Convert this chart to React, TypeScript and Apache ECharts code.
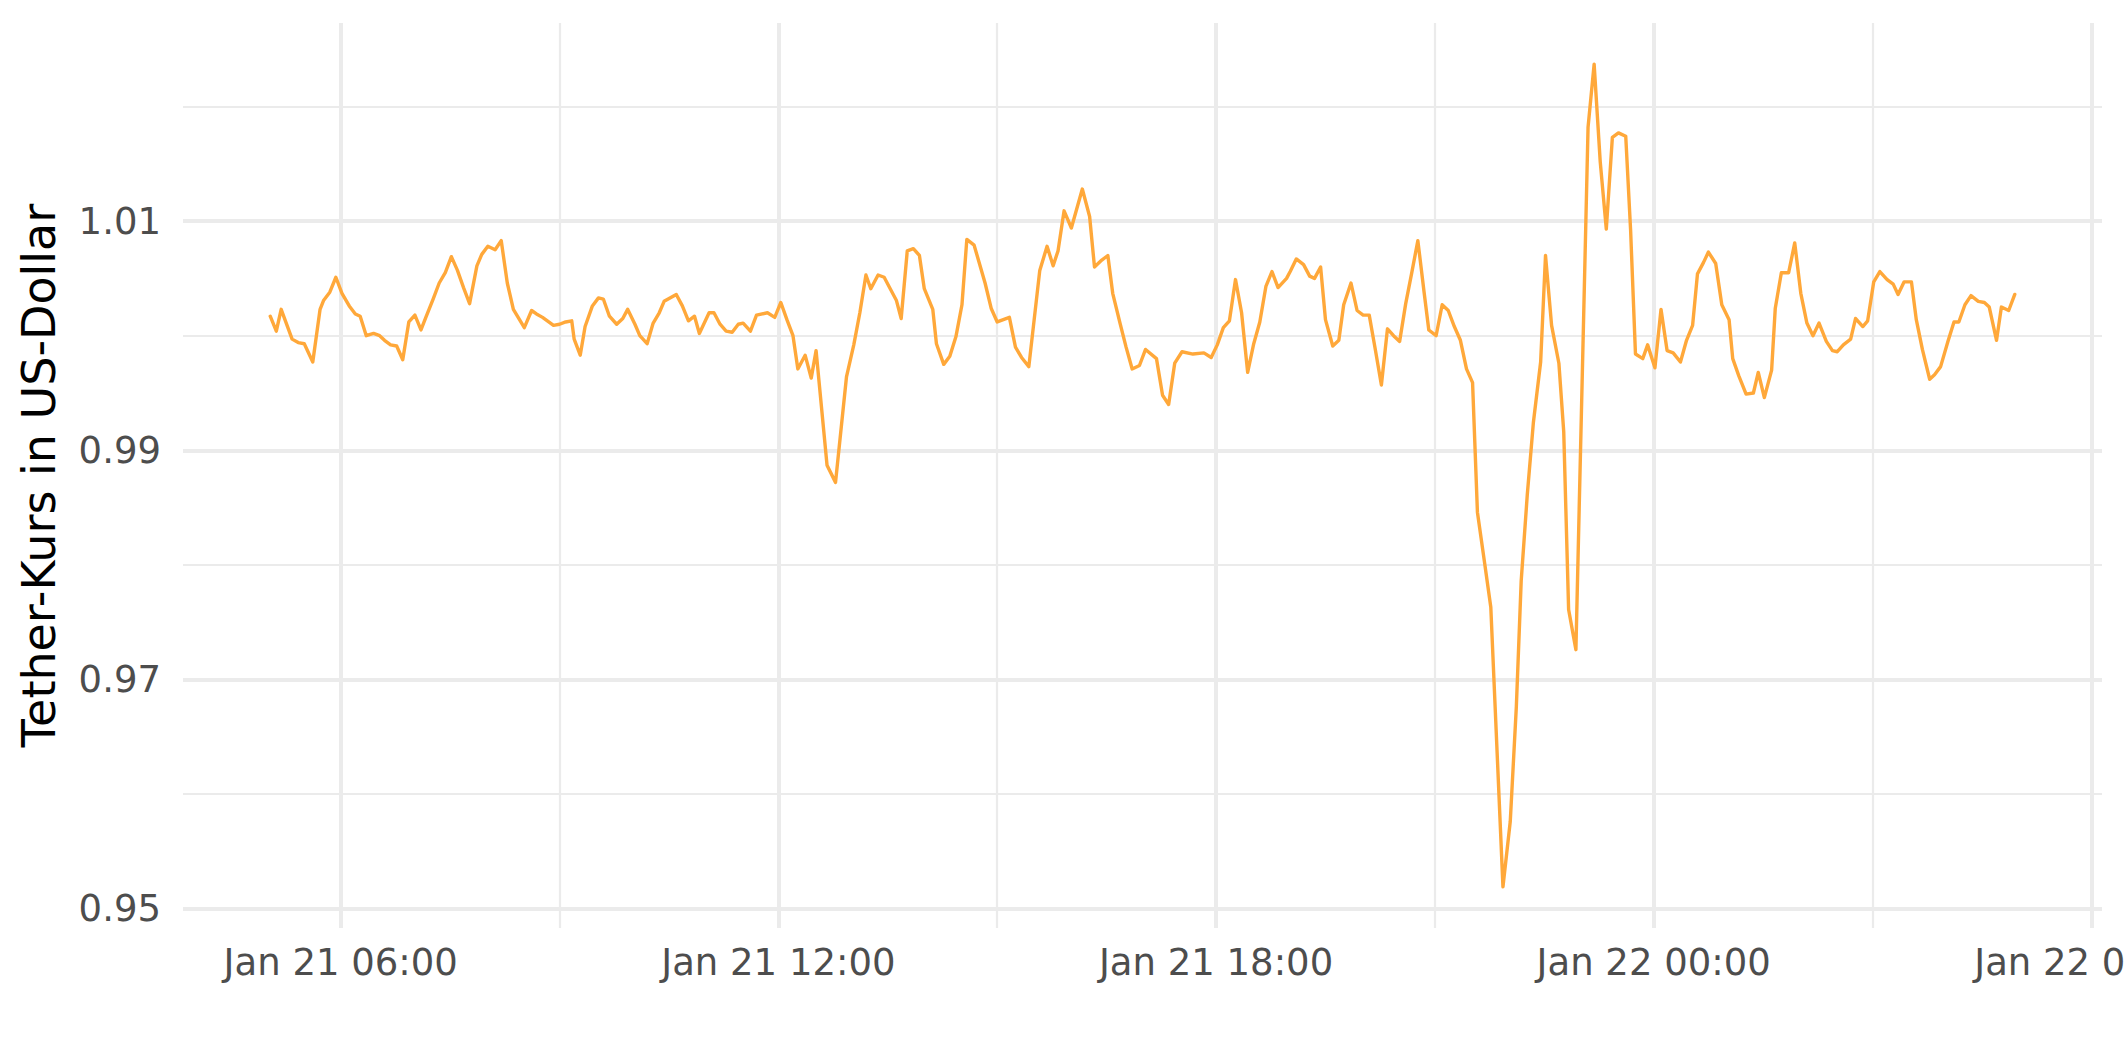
import React, { useEffect, useRef } from "react";
import * as echarts from "echarts";

// minutes since Jan 21 00:00
const minutes = [
  302, 307, 311, 320, 325, 330, 337, 343, 346, 351, 356, 361, 367, 372, 376, 381, 387, 392, 396, 401,
  406, 411, 416, 421, 426, 430, 436, 441, 446, 451, 456, 461, 466, 472, 476, 481, 487, 492, 497, 502,
  511, 517, 521, 526, 535, 540, 545, 550, 552, 557, 561, 567, 572, 576, 581, 587, 592, 596, 602, 606,
  612, 617, 622, 626, 636, 641, 646, 651, 655,
  663, 667, 672, 677, 682, 687, 691, 697, 702, 711, 717, 722, 727, 732, 736, 742, 747, 751, 760, 767,
  776, 782, 787, 792, 796, 802, 807, 811, 817, 821, 826, 831, 836, 840, 847, 850, 856, 861, 866, 871,
  875, 881, 890, 895, 900, 910, 915, 920, 926, 935, 941, 946, 950, 955, 961, 970, 976, 980,
  986, 991, 995, 1001, 1006, 1011, 1017, 1022, 1031, 1036, 1041, 1046, 1052, 1061, 1070, 1076, 1081,
  1086, 1091, 1096, 1101, 1106, 1111, 1116, 1121, 1126, 1131, 1138, 1141, 1146, 1152, 1157, 1161, 1166,
  1170, 1176, 1181, 1185, 1191, 1196, 1201, 1206, 1211, 1216, 1221, 1226, 1231, 1236, 1241, 1246, 1251,
  1255, 1261, 1266, 1271, 1276, 1281, 1286, 1291, 1295,
  1301, 1306, 1316, 1322, 1327, 1331, 1336, 1341, 1347, 1351, 1356, 1362, 1366, 1370, 1376, 1386, 1391,
  1396, 1401, 1406, 1411, 1417, 1421, 1425, 1431, 1435, 1441, 1446, 1451, 1456, 1462, 1467, 1472, 1476,
  1481, 1485, 1491, 1496, 1502, 1505, 1510, 1516, 1522, 1526, 1531, 1537, 1540, 1545, 1551, 1556,
  1561, 1566, 1571, 1576, 1582, 1587, 1591, 1596, 1602, 1606, 1612, 1616, 1621, 1626, 1632, 1637, 1641,
  1646, 1652, 1656, 1661, 1667, 1671, 1676, 1682, 1687, 1691, 1696, 1701, 1707, 1712, 1716, 1722, 1726,
  1732, 1737,
];

const rate = [
  1.0017, 1.0004, 1.0023, 0.9997, 0.9994, 0.9993, 0.9977, 1.0023, 1.0031, 1.0038, 1.0051, 1.0037, 1.0026, 1.0019, 1.0017, 1.0000, 1.0002, 1.0000, 0.9996, 0.9992,
  0.9991, 0.9979, 1.0012, 1.0018, 1.0005, 1.0016, 1.0032, 1.0046, 1.0055, 1.0069, 1.0057, 1.0042, 1.0028, 1.0061, 1.0071, 1.0078, 1.0075, 1.0083, 1.0046, 1.0023,
  1.0007, 1.0022, 1.0019, 1.0016, 1.0009, 1.0010, 1.0012, 1.0013, 0.9997, 0.9983, 1.0008, 1.0026, 1.0033, 1.0032, 1.0017, 1.0010, 1.0015, 1.0023, 1.0010, 1.0000,
  0.9993, 1.0011, 1.0020, 1.0030, 1.0036, 1.0026, 1.0013, 1.0017, 1.0002,
  1.0020, 1.0020, 1.0010, 1.0004, 1.0003, 1.0010, 1.0011, 1.0004, 1.0018, 1.0020, 1.0016, 1.0029, 1.0014, 1.0000, 0.9971, 0.9983, 0.9963, 0.9987, 0.9887, 0.9872,
  0.9964, 0.9992, 1.0020, 1.0053, 1.0041, 1.0053, 1.0051, 1.0043, 1.0031, 1.0015, 1.0074, 1.0076, 1.0070, 1.0041, 1.0023, 0.9993, 0.9975, 0.9982, 0.9999, 1.0027,
  1.0084, 1.0079, 1.0046, 1.0024, 1.0012, 1.0016, 0.9990, 0.9981, 0.9973, 1.0057, 1.0078, 1.0061, 1.0074, 1.0109, 1.0094, 1.0128, 1.0104, 1.0060,
  1.0066, 1.0070, 1.0037, 1.0011, 0.9990, 0.9971, 0.9974, 0.9988, 0.9980, 0.9948, 0.9940, 0.9976, 0.9986, 0.9984, 0.9985, 0.9981, 0.9992,
  1.0007, 1.0013, 1.0049, 1.0020, 0.9968, 0.9993, 1.0012, 1.0043, 1.0056, 1.0042, 1.0050, 1.0056, 1.0067, 1.0062, 1.0052, 1.0050, 1.0060,
  1.0014, 0.9991, 0.9996, 1.0027, 1.0046, 1.0022, 1.0018, 1.0018, 0.9988, 0.9957, 1.0006, 1.0000, 0.9995, 1.0028, 1.0055, 1.0083, 1.0039,
  1.0005, 1.0000, 1.0027, 1.0022, 1.0008, 0.9996, 0.9971, 0.9959, 0.9846,
  0.9801, 0.9763, 0.9519, 0.9576, 0.9676, 0.9786, 0.9861, 0.9924, 0.9977, 1.0070, 1.0009, 0.9976, 0.9916, 0.9761, 0.9726, 1.0182, 1.0237,
  1.0152, 1.0093, 1.0173, 1.0177, 1.0174, 1.0092, 0.9984, 0.9980, 0.9992, 0.9972, 1.0023, 0.9987, 0.9985, 0.9977, 0.9996, 1.0009, 1.0054,
  1.0064, 1.0073, 1.0063, 1.0027, 1.0014, 0.9980, 0.9965, 0.9949, 0.9950, 0.9968, 0.9946, 0.9970, 1.0024, 1.0055, 1.0055, 1.0081,
  1.0037, 1.0011, 1.0000, 1.0011, 0.9995, 0.9987, 0.9986, 0.9992, 0.9997, 1.0015, 1.0008, 1.0013, 1.0047, 1.0056, 1.0049, 1.0045, 1.0036,
  1.0047, 1.0047, 1.0014, 0.9988, 0.9962, 0.9966, 0.9973, 0.9995, 1.0012, 1.0012, 1.0027, 1.0035, 1.0030, 1.0029, 1.0025, 0.9996, 1.0025,
  1.0022, 1.0036,
];

// axis ticks (minutes since Jan 21 00:00)
const xTicks = [360, 720, 1080, 1440, 1800];
const xTickLabels = ["Jan 21 06:00", "Jan 21 12:00", "Jan 21 18:00", "Jan 22 00:00", "Jan 22 06:00"];
const xMinor = [540, 900, 1260, 1620];
const yTicks = [0.95, 0.97, 0.99, 1.01];
const yTickLabels = ["0.95", "0.97", "0.99", "1.01"];
const yMinor = [0.96, 0.98, 1.0, 1.02];

export default function App() {
  const ref = useRef<HTMLDivElement>(null);

  useEffect(() => {
    if (!ref.current) return;
    const chart = echarts.init(ref.current, null, { renderer: "svg" });

    const seriesData = minutes.map((m, i) => [m, rate[i]]);

    const tMin = Math.min(...minutes);
    const tMax = Math.max(...minutes);
    const tPad = (tMax - tMin) * 0.05;
    const vMin = Math.min(...rate);
    const vMax = Math.max(...rate);
    const vPad = (vMax - vMin) * 0.05;

    const grid = "#EBEBEB";
    const gridLines: any[] = [
      ...yTicks.map((v) => ({ yAxis: v, lineStyle: { color: grid, width: 4, type: "solid" } })),
      ...yMinor.map((v) => ({ yAxis: v, lineStyle: { color: grid, width: 2.2, type: "solid" } })),
      ...xTicks.map((t) => ({ xAxis: t, lineStyle: { color: grid, width: 4, type: "solid" } })),
      ...xMinor.map((t) => ({ xAxis: t, lineStyle: { color: grid, width: 2.2, type: "solid" } })),
    ];

    chart.setOption({
      animation: false,
      backgroundColor: "#FFFFFF",
      textStyle: { fontFamily: "DejaVu Sans" },
      grid: {
        left: 183,
        right: 23,
        top: 23,
        bottom: 134,
        containLabel: false,
        outerBoundsMode: "none",
      },
      xAxis: {
        type: "value",
        min: tMin - tPad,
        max: tMax + tPad,
        axisLine: { show: false },
        axisTick: { show: false },
        splitLine: { show: false },
        axisLabel: {
          customValues: xTicks,
          color: "#4D4D4D",
          fontSize: 37,
          fontFamily: "DejaVu Sans",
          margin: 16,
          hideOverlap: false,
          formatter: (v: number) => {
            const idx = xTicks.findIndex((t) => Math.abs(t - v) < 0.5);
            return idx >= 0 ? xTickLabels[idx] : "";
          },
        },
      },
      yAxis: {
        type: "value",
        min: vMin - vPad,
        max: vMax + vPad,
        name: "Tether-Kurs in US-Dollar",
        nameLocation: "middle",
        nameGap: 121,
        nameRotate: 90,
        nameTextStyle: { fontSize: 46, color: "#000000", fontFamily: "DejaVu Sans" },
        axisLine: { show: false },
        axisTick: { show: false },
        splitLine: { show: false },
        axisLabel: {
          customValues: yTicks,
          color: "#4D4D4D",
          fontSize: 37,
          fontFamily: "DejaVu Sans",
          margin: 22,
          formatter: (v: number) => {
            const idx = yTicks.findIndex((t) => Math.abs(t - v) < 1e-6);
            return idx >= 0 ? yTickLabels[idx] : "";
          },
        },
      },
      series: [
        {
          type: "line",
          data: [],
          silent: true,
          z: 1,
          markLine: {
            silent: true,
            z: 1,
            symbol: ["none", "none"],
            label: { show: false },
            emphasis: { disabled: true },
            animation: false,
            data: gridLines,
          },
        },
        {
          type: "line",
          data: seriesData,
          z: 5,
          showSymbol: false,
          silent: true,
          lineStyle: { color: "#FFA83A", width: 3.4, join: "round", cap: "round" },
          itemStyle: { color: "#FFA83A" },
        },
      ],
    });

    return () => chart.dispose();
  }, []);

  return (
    <div
      ref={ref}
      style={{ position: "absolute", left: 0, top: 0, width: 2125, height: 1062, background: "#fff" }}
    />
  );
}
